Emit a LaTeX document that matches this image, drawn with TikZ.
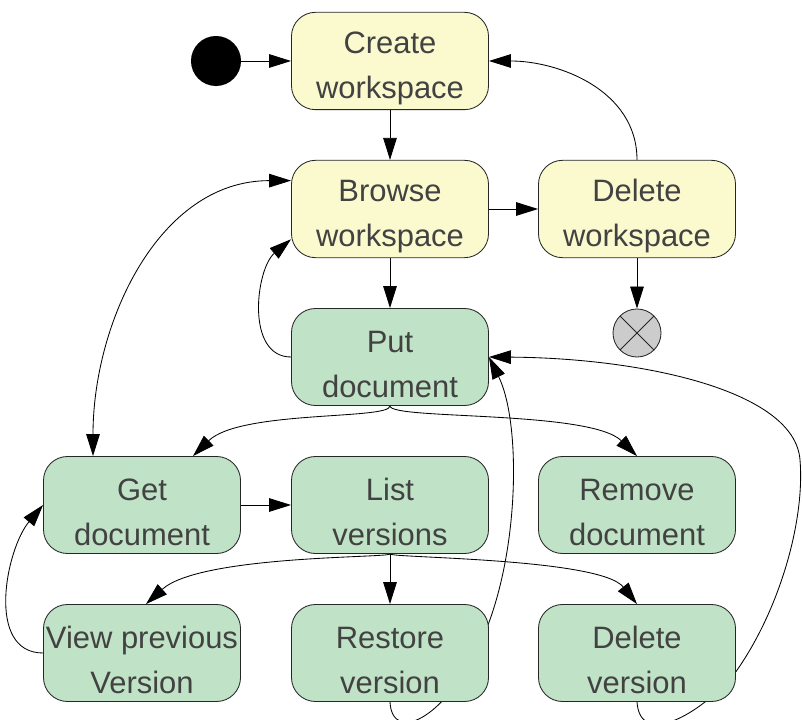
\documentclass[tikz,border=0pt]{standalone}
\usepackage{fontspec}
\setmainfont{Liberation Sans}
\usetikzlibrary{arrows.meta, calc}
\pgfdeclarelayer{background}
\pgfsetlayers{background,main}
\definecolor{wsyellow}{RGB}{250,250,206}
\definecolor{docgreen}{RGB}{192,226,198}
\definecolor{txtgray}{RGB}{66,66,66}
\definecolor{endgray}{RGB}{204,204,204}

\begin{document}
\begin{tikzpicture}[x=0.025cm, y=-0.025cm,
  state/.style={draw=black!85, line width=0.6pt, rounded corners=0.6cm,
    minimum width=4.925cm, minimum height=2.425cm, inner xsep=0pt,
    align=center, text=txtgray, font=\fontsize{22}{32}\selectfont,
    execute at begin node={\rule{0pt}{58pt}}},
  wsbox/.style={state, fill=wsyellow},
  docbox/.style={state, fill=docgreen},
  startdot/.style={circle, fill=black, minimum size=1.25cm, inner sep=0pt},
  enddot/.style={circle, draw=black!85, line width=0.6pt, fill=endgray,
    minimum size=1.2cm, inner sep=0pt,
    path picture={\draw[line width=0.6pt, black!85]
      (path picture bounding box.north west) -- (path picture bounding box.south east)
      (path picture bounding box.south west) -- (path picture bounding box.north east);}},
  arr/.style={line width=0.6pt, -{Triangle[length=0.55cm,width=0.34cm]}},
  arrboth/.style={line width=0.6pt, {Triangle[length=0.55cm,width=0.34cm]}-{Triangle[length=0.55cm,width=0.34cm]}}]
\useasboundingbox (0,0) rectangle (802,720);

\node[startdot] (start) at (216,61) {};
\node[wsbox] (create) at (390,61) {Create\\workspace};
\node[wsbox] (browse) at (390,209) {Browse\\workspace};
\node[wsbox] (delws) at (637,209) {Delete\\workspace};
\node[enddot] (final) at (637,333) {};
\node[docbox] (put) at (390,357) {Put\\document};
\node[docbox] (get) at (142,505) {Get\\document};
\node[docbox] (list) at (390,505) {List\\versions};
\node[docbox] (remove) at (637,505) {Remove\\document};
\node[docbox] (view) at (142,653) {View previous\\Version};
\node[docbox] (restore) at (390,653) {Restore\\version};
\node[docbox] (delver) at (637,653) {Delete\\version};

\begin{pgfonlayer}{background}
\draw[arr] (start) -- (create);
\draw[arr] (create) -- (browse);
\draw[arr] (browse) -- (delws);
\draw[arr] (delws.north) to[out=90,in=0] (create.east);
\draw[arr] (delws) -- (final);
\draw[arr] (browse) -- (put);
\draw[arr] (put.west) to[out=180,in=220] (browse.197);
\draw[arrboth] (browse.164) to[out=180,in=90] ($(get.north)+(-49,0)$);
\draw[arr] (put.south) .. controls (390,420) and (240,410) .. ($(get.north)+(51,0)$);
\draw[arr] (put.south) .. controls (390,420) and (590,410) .. (remove.north);
\draw[arr] (get) -- (list);
\draw[arr] (list.south) .. controls (390,558) and (200,555) .. ($(view.north)+(4,0)$);
\draw[arr] (list.south) .. controls (390,558) and (600,558) .. (delver.north);
\draw[arr] (list) -- (restore);
\draw[arr] (view.west) to[out=180,in=230] (get.west);
\draw[arr] (restore.south) .. controls (392,745) and (450,720) .. (488,625)
  .. controls (520,540) and (520,420) .. (put.east);
\draw[arr] (delver.south) .. controls (640,748) and (700,715) .. (735,673)
  .. controls (780,610) and (805,520) .. (800,460)
  .. controls (795,390) and (640,358) .. (put.east);
\end{pgfonlayer}
\end{tikzpicture}
\end{document}
